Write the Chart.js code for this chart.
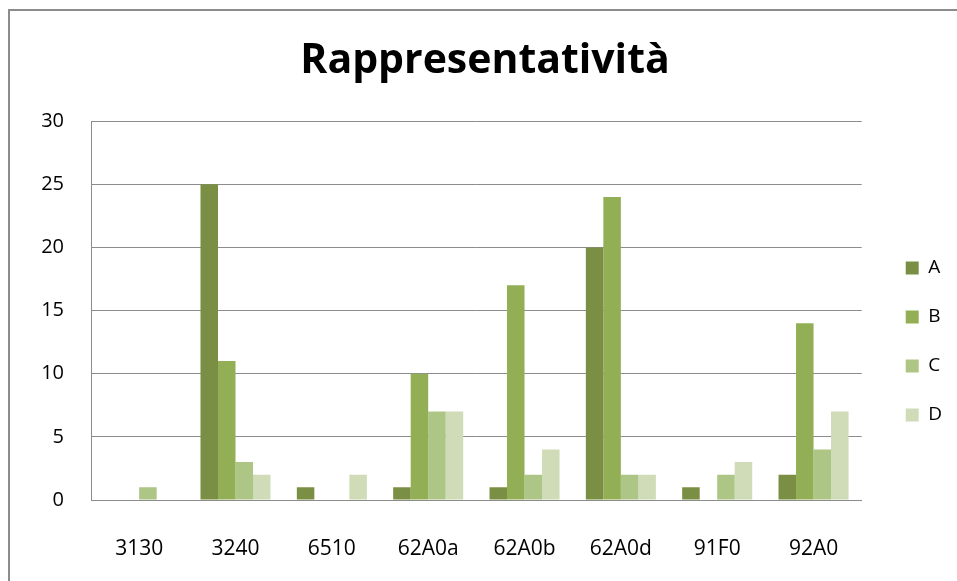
<!DOCTYPE html>
<html lang="it">
<head>
    <meta charset="UTF-8">
    <title>Rappresentatività</title>
    <script src="https://cdn.jsdelivr.net/npm/chart.js@4.4.1/dist/chart.umd.min.js"></script>
    <style>
        html, body {
            margin: 0;
            padding: 0;
            background: #fff;
            overflow: hidden;
        }
        .frame {
            position: absolute;
            left: 8px;
            top: 9px;
            width: 1000px;
            height: 700px;
            border: 2px solid #8c8c8c;
        }
        .wrap {
            position: absolute;
            left: 0;
            top: 0;
            width: 957px;
            height: 581px;
        }
    </style>
</head>
<body>
    <div class="frame"></div>
    <div class="wrap"><canvas id="chart" width="957" height="581"></canvas></div>

    <script>
        const categories = ['3130', '3240', '6510', '62A0a', '62A0b', '62A0d', '91F0', '92A0'];
        const seriesNames = ['A', 'B', 'C', 'D'];
        const valuesA = [0, 25, 1, 1, 1, 20, 1, 2];
        const valuesB = [0, 11, 0, 10, 17, 24, 0, 14];
        const valuesC = [1, 3, 0, 7, 2, 2, 2, 4];
        const valuesD = [0, 2, 2, 7, 4, 2, 3, 7];
        const yTicks = [0, 5, 10, 15, 20, 25, 30];

        const colors = ['#7a8f43', '#93af55', '#adc585', '#cfdcb7'];
        const allValues = [valuesA, valuesB, valuesC, valuesD];

        const font = '"Open Sans", "Liberation Sans", sans-serif';

        // nudge legend and title to where the original sits
        const nudge = {
            id: 'nudge',
            afterLayout(chart) {
                const lg = chart.legend;
                lg.left += 14; lg.right += 14;
                lg.top += 51; lg.bottom += 51;
                const t = chart.titleBlock;
                t.left += 16; t.right += 16;
            }
        };

        new Chart(document.getElementById('chart'), {
            type: 'bar',
            data: {
                labels: categories,
                datasets: seriesNames.map((name, i) => ({
                    label: name,
                    data: allValues[i],
                    backgroundColor: colors[i],
                    borderWidth: 0,
                    barPercentage: 1,
                    categoryPercentage: 0.727
                }))
            },
            options: {
                responsive: false,
                animation: false,
                layout: { padding: { left: 0, right: 19, top: 0, bottom: 0 } },
                plugins: {
                    title: {
                        display: true,
                        text: 'Rappresentatività',
                        color: '#000',
                        font: { family: font, size: 41, weight: 'bold' },
                        padding: { top: 37, bottom: 35 }
                    },
                    legend: {
                        position: 'right',
                        labels: {
                            boxWidth: 13,
                            boxHeight: 13,
                            padding: 30,
                            color: '#000',
                            font: { family: font, size: 19 }
                        }
                    },
                    tooltip: { enabled: false }
                },
                scales: {
                    x: {
                        grid: { display: false },
                        border: { display: true, color: '#8c8c8c', width: 1 },
                        ticks: {
                            color: '#000',
                            padding: 28,
                            font: { family: font, size: 21 }
                        },
                        afterFit: s => { s.height = 81; }
                    },
                    y: {
                        min: 0,
                        max: 30,
                        afterBuildTicks: s => { s.ticks = yTicks.map(v => ({ value: v })); },
                        grid: { color: '#8c8c8c', drawTicks: false },
                        border: { display: true, color: '#8c8c8c', width: 1 },
                        ticks: {
                            color: '#000',
                            padding: 27,
                            font: { family: font, size: 20 }
                        },
                        afterFit: s => { s.width = 91; }
                    }
                }
            },
            plugins: [nudge]
        });
    </script>
</body>
</html>
